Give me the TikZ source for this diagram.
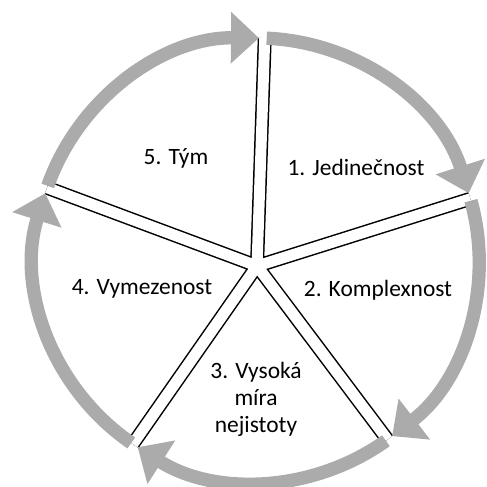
\documentclass[tikz,border=0pt]{standalone}
\usepackage{fontspec}
\setmainfont{Carlito}
\usetikzlibrary{arrows.meta}
\usetikzlibrary{calc}

\begin{document}
\begin{tikzpicture}[x=0.03cm,y=0.03cm]
\tikzstyle{every node}=[font=\fontsize{20}{23}\selectfont, inner sep=0pt]
\tikzstyle{ring}=[draw=black!33, line width=0.4cm, -{Triangle[length=0.84cm,width=1.5cm]}]
\tikzstyle{spokeout}=[black, line width=0.42cm]
\tikzstyle{spokein}=[white, line width=0.33cm]
\useasboundingbox (0,0) rectangle (487,487);
\coordinate (c) at (257,227);
\coordinate (hub) at (257,221);
\coordinate (e1) at ($(c)+(88:222)$);
\coordinate (e2) at ($(c)+(16:222)$);
\coordinate (e3) at ($(c)+(-54:222)$);
\coordinate (e4) at ($(c)+(-124:222)$);
\coordinate (e5) at ($(c)+(161:222)$);
\coordinate (s1) at ($(c)+(160.5:222)$);
\coordinate (s2) at ($(c)+(87.5:222)$);
\coordinate (s3) at ($(c)+(15.5:222)$);
\coordinate (s4) at ($(c)+(-54.5:222)$);
\coordinate (s5) at ($(c)+(-124.5:222)$);
\draw[spokeout] (hub) -- (e1) (hub) -- (e2) (hub) -- (e3) (hub) -- (e4) (hub) -- (e5);
\fill[black] (hub) circle (0.21cm);
\draw[spokein] (hub) -- (e1) (hub) -- (e2) (hub) -- (e3) (hub) -- (e4) (hub) -- (e5);
\fill[white] (hub) circle (0.165cm);
\draw[ring] (s1) arc[start angle=160.5, end angle=89.5, radius=222];
\draw[ring] (s2) arc[start angle=87.5, end angle=17.5, radius=222];
\draw[ring] (s3) arc[start angle=15.5, end angle=-52.5, radius=222];
\draw[ring] (s4) arc[start angle=-54.5, end angle=-122.5, radius=222];
\draw[ring] (s5) arc[start angle=-124.5, end angle=-197.5, radius=222];
\node (tym) at (176,329) {5. Tým};
\node (jed) at (356,320) {1. Jedinečnost};
\node (kom) at (378,197) {2. Komplexnost};
\node (vym) at (142,198) {4. Vymezenost};
\node[align=center] (nej) at (256,88) {3. Vysoká\\míra\\nejistoty};
\end{tikzpicture}
\end{document}
